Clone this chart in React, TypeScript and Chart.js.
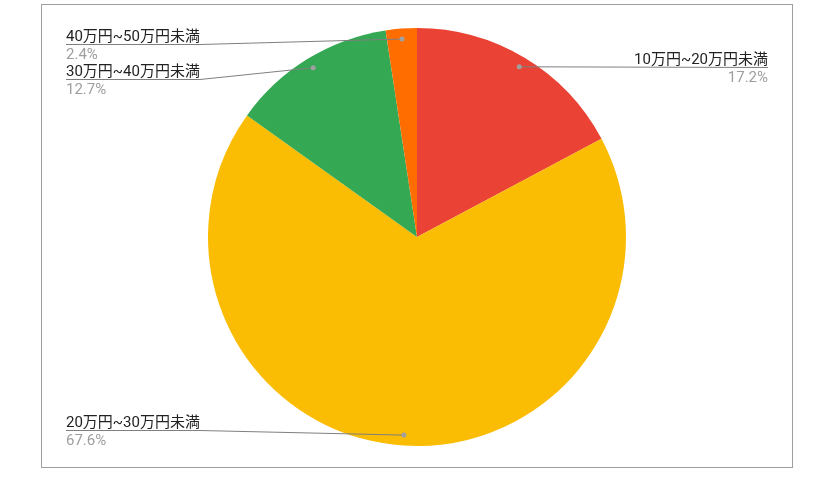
import React, { useEffect, useRef } from "react";
import { Chart, registerables } from "chart.js";

Chart.register(...registerables);

const categories = ["10万円~20万円未満", "20万円~30万円未満", "30万円~40万円未満", "40万円~50万円未満"];
const values = [17.2, 67.6, 12.7, 2.4];
const percentLabels = ["17.2%", "67.6%", "12.7%", "2.4%"];
const sliceColors = ["#EA4335", "#FBBC04", "#34A853", "#FF6D01"];

// label layout (positions of the text blocks only)
const labelLayout = [
  { side: "right", x: 768, y: 67 },
  { side: "left", x: 66, y: 430 },
  { side: "left", x: 66, y: 79 },
  { side: "left", x: 66, y: 44 },
];

const FONT = "Roboto, 'Noto Sans CJK JP', sans-serif";

const frame = {
  id: "frame",
  beforeDraw(chart: any) {
    const ctx = chart.ctx;
    ctx.save();
    ctx.fillStyle = "#ffffff";
    ctx.fillRect(0, 0, chart.width, chart.height);
    ctx.strokeStyle = "#9e9e9e";
    ctx.lineWidth = 1;
    ctx.strokeRect(41.5, 4.5, 751, 463);
    ctx.restore();
  },
};

const leaders = {
  id: "leaders",
  afterDraw(chart: any) {
    const ctx = chart.ctx;
    const meta = chart.getDatasetMeta(0);
    ctx.save();
    meta.data.forEach((arc: any, i: number) => {
      const lay = labelLayout[i];
      const mid = (arc.startAngle + arc.endAngle) / 2;
      const r = arc.outerRadius * 0.95;
      const dx = arc.x + Math.cos(mid) * r;
      const dy = arc.y + Math.sin(mid) * r;
      ctx.font = `15px ${FONT}`;
      const w = ctx.measureText(categories[i]).width;
      ctx.strokeStyle = "#7f7f7f";
      ctx.lineWidth = 1;
      ctx.beginPath();
      if (lay.side === "left") {
        ctx.moveTo(lay.x, lay.y + 0.5);
        ctx.lineTo(lay.x + w, lay.y + 0.5);
        ctx.lineTo(dx, dy);
      } else {
        ctx.moveTo(dx, dy);
        ctx.lineTo(lay.x, lay.y + 0.5);
      }
      ctx.stroke();
      ctx.fillStyle = "#a0a0a0";
      ctx.beginPath();
      ctx.arc(dx, dy, 2.5, 0, Math.PI * 2);
      ctx.fill();
      ctx.textAlign = lay.side === "left" ? "left" : "right";
      ctx.textBaseline = "alphabetic";
      ctx.fillStyle = "#222222";
      ctx.fillText(categories[i], lay.x, lay.y - 3);
      ctx.fillStyle = "#9e9e9e";
      ctx.fillText(percentLabels[i], lay.x, lay.y + 15);
    });
    ctx.restore();
  },
};

export default function App() {
  const ref = useRef<HTMLCanvasElement | null>(null);
  useEffect(() => {
    if (!ref.current) return;
    const chart = new Chart(ref.current, {
      type: "pie",
      data: {
        labels: categories,
        datasets: [
          {
            data: values,
            backgroundColor: sliceColors,
            borderWidth: 0,
          },
        ],
      },
      options: {
        animation: false,
        responsive: false,
        maintainAspectRatio: false,
        layout: { padding: { top: 28, bottom: 45, left: 10, right: 0 } },
        plugins: {
          legend: { display: false },
          tooltip: { enabled: false },
        },
      },
      plugins: [frame, leaders],
    });
    return () => chart.destroy();
  }, []);
  return (
    <div style={{ position: "absolute", left: 0, top: 0, width: 824, height: 491 }}>
      <canvas ref={ref} width={824} height={491} style={{ width: 824, height: 491 }} />
    </div>
  );
}
